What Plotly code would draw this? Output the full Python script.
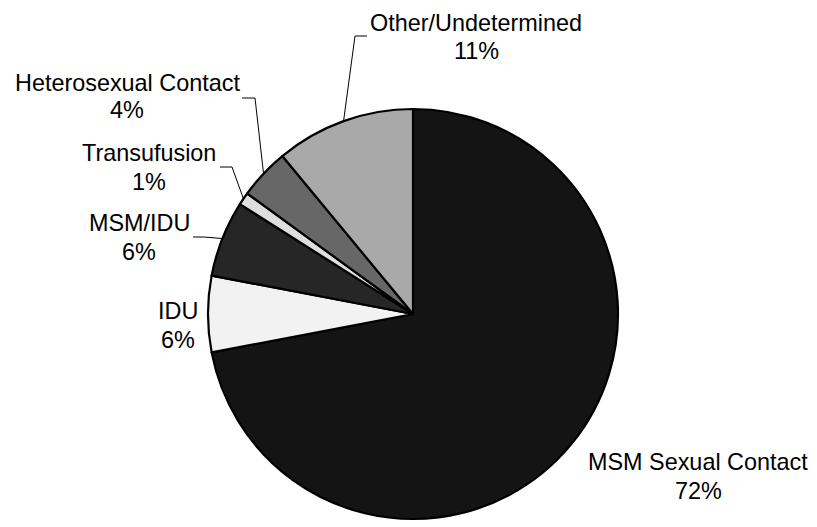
import math
import plotly.graph_objects as go

categories = ["MSM Sexual Contact", "IDU", "MSM/IDU", "Transufusion",
              "Heterosexual Contact", "Other/Undetermined"]
values = [72, 6, 6, 1, 4, 11]
pct_labels = ["72%", "6%", "6%", "1%", "4%", "11%"]
colors = ["#141414", "#f2f2f2", "#262626", "#dedede", "#676767", "#a9a9a9"]

W, H = 817, 527
CX, CY, R = 413, 314, 205

# label layout (pixel positions of text line centers)
label_pos = {
    "MSM Sexual Contact": (698, 462, 491),
    "IDU": (178, 311, 340),
    "MSM/IDU": (139, 223, 252),
    "Transufusion": (149, 153, 182),
    "Heterosexual Contact": (127, 83, 110),
    "Other/Undetermined": (476, 23, 51),
}
# leader line elbows (elbow point, end point)
leaders = {
    "MSM/IDU": ((204, 237), (193, 237)),
    "Transufusion": ((232, 167), (220, 167)),
    "Heterosexual Contact": ((255, 98), (242, 98)),
    "Other/Undetermined": ((355, 36), (367, 36)),
}

def px(x):
    return x / W

def py(y):
    return 1 - y / H

fig = go.Figure(go.Pie(
    labels=categories, values=values, sort=False, direction="clockwise",
    rotation=0, textinfo="none", hoverinfo="label+percent",
    marker=dict(colors=colors, line=dict(color="black", width=2.2)),
    domain=dict(x=[px(CX - R), px(CX + R)], y=[py(CY + R), py(CY - R)]),
    showlegend=False,
))

font = dict(family="Liberation Sans, Arial, sans-serif", size=23.4, color="black")
annotations = []
for cat, pct in zip(categories, pct_labels):
    x, y1, y2 = label_pos[cat]
    for txt, yy in ((cat, y1), (pct, y2)):
        annotations.append(dict(x=px(x), y=py(yy), xref="paper", yref="paper",
                                text=txt, showarrow=False, font=font,
                                xanchor="center", yanchor="middle"))

shapes = []
total = sum(values)
cum = 0
for cat, v in zip(categories, values):
    mid = (cum + v / 2) / total * 2 * math.pi
    cum += v
    if cat not in leaders:
        continue
    ex = CX + R * math.sin(mid)
    ey = CY - R * math.cos(mid)
    (bx, by), (tx, ty) = leaders[cat]
    path = f"M {px(ex)} {py(ey)} L {px(bx)} {py(by)} L {px(tx)} {py(ty)}"
    shapes.append(dict(type="path", path=path, xref="paper", yref="paper",
                       line=dict(color="black", width=1)))

fig.update_layout(width=W, height=H, margin=dict(l=0, r=0, t=0, b=0),
                  paper_bgcolor="white", plot_bgcolor="white",
                  annotations=annotations, shapes=shapes)
fig.write_html("out.html", config={"displayModeBar": False},
               post_script="document.body.style.margin='0';document.body.style.overflow='hidden';")
